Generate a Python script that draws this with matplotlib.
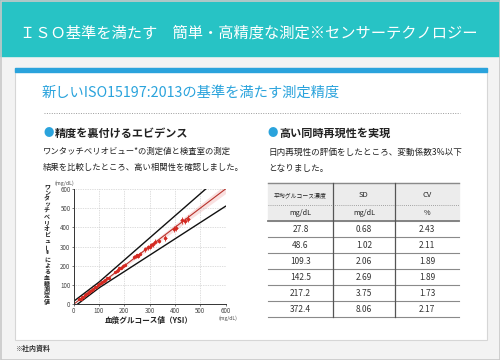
import matplotlib
matplotlib.use("Agg")
import matplotlib.pyplot as plt
from matplotlib.patches import Rectangle

plt.rcParams["font.family"] = ["Noto Sans CJK JP", "DejaVu Sans"]

# ---------------------------------------------------------------------------
# Data
# ---------------------------------------------------------------------------

TITLE = "ＩＳＯ基準を満たす　簡単・高精度な測定※センサーテクノロジー"
SUBTITLE = "新しいISO15197:2013の基準を満たす測定精度"
LEFT_HEAD = "精度を裏付けるエビデンス"
LEFT_BODY = ["ワンタッチベリオビュー*の測定値と検査室の測定",
             "結果を比較したところ、高い相関性を確認しました。"]
RIGHT_HEAD = "高い同時再現性を実現"
RIGHT_BODY = ["日内再現性の評価をしたところ、変動係数3%以下",
              "となりました。"]
FOOTNOTE = "※社内資料"

YLABEL = "ワンタッチベリオビュー®による血糖測定値"
XLABEL = "血漿グルコース値（YSI）"
TICKS = [0, 100, 200, 300, 400, 500, 600]

# lab value (YSI) vs meter value, mg/dL, with spread of repeated readings
ysi = [22, 27, 33, 38, 44, 50, 55, 60, 66, 72, 78, 84, 90, 96, 101, 106,
       112, 118, 124, 130, 138, 165, 170, 176, 181, 188, 195, 203, 238, 245,
       250, 255, 262, 282, 292, 300, 306, 313, 322, 336, 362, 395, 404, 428,
       440, 450]
meter = [26, 29, 36, 40, 47, 52, 58, 61, 70, 74, 80, 88, 92, 100, 104, 110,
         114, 122, 126, 134, 136, 168, 174, 178, 186, 190, 198, 206, 244, 250,
         254, 252, 264, 286, 296, 300, 308, 312, 324, 330, 344, 392, 398, 438,
         434, 446]
meter_err = [2, 2, 3, 3, 3, 3, 4, 3, 4, 4, 4, 5, 4, 5, 5, 6, 5, 6, 6, 7,
             6, 7, 8, 7, 8, 8, 9, 9, 10, 11, 10, 11, 10, 12, 12, 13, 12, 14,
             13, 12, 14, 15, 16, 18, 16, 17]
ysi_err = [1, 1, 1, 1, 2, 2, 2, 2, 2, 2, 2, 2, 3, 3, 3, 3, 3, 3, 3, 3,
           3, 4, 4, 4, 4, 4, 4, 4, 5, 5, 5, 5, 5, 6, 6, 6, 6, 6, 6, 6,
           7, 7, 7, 8, 8, 8]

# identity line and ISO 15197:2013 limits (vertices)
ident_x = [0, 600]
ident_y = [0, 600]
band_lo = [0, 576]
band_hi = [0, 624]
upper_x = [0, 100, 600]
upper_y = [15, 115, 690]
lower_x = [15, 100, 600]
lower_y = [0, 85, 510]

# reproducibility table
table_head = ["平均グルコース濃度", "SD", "CV"]
table_units = ["mg/dL", "mg/dL", "%"]
mean_glucose = [27.8, 48.6, 109.3, 142.5, 217.2, 372.4]
sd_values = [0.68, 1.02, 2.06, 2.69, 3.75, 8.06]
cv_values = [2.43, 2.11, 1.89, 1.89, 1.73, 2.17]

# ---------------------------------------------------------------------------
# Colours
# ---------------------------------------------------------------------------

TEAL = "#27c3c5"
BLUE = "#2aa3dc"
TEXT = "#222222"
RED = "#d42a22"

# ---------------------------------------------------------------------------
# Page layout (pixel coordinates on a 500x360 canvas)
# ---------------------------------------------------------------------------

fig = plt.figure(figsize=(5.0, 3.6), dpi=100)
fig.patch.set_facecolor("#f3f3f3")

bg = fig.add_axes([0, 0, 1, 1])
bg.set_xlim(0, 500)
bg.set_ylim(360, 0)
bg.axis("off")

bg.add_patch(Rectangle((0, 0), 500, 56, color=TEAL, zorder=1))
bg.add_patch(Rectangle((0.5, 0.5), 499, 359, fill=False, ec="#c8c8c8", lw=1.2, zorder=1))
bg.add_patch(Rectangle((15, 68), 472, 272, fc="white", ec="#d6d6d6", lw=0.8, zorder=1))
bg.add_patch(Rectangle((15, 68), 472, 4, color=BLUE, zorder=2))

bg.text(20, 33, TITLE, color="white", fontsize=11, va="center", ha="left")
bg.text(42, 93, SUBTITLE, color=BLUE, fontsize=10.3, va="center", ha="left")
bg.plot([44, 460], [113, 113], color="#9a9a9a", lw=0.7, ls=(0, (1, 1.5)))

# section headings: blue dot + bold text
for hx, head in ((43, LEFT_HEAD), (268, RIGHT_HEAD)):
    bg.text(hx, 133, "●", color=BLUE, fontsize=7.5, va="center")
    bg.text(hx + 11.5, 133, head, color=TEXT, fontsize=8, fontweight="bold", va="center")
for i, line in enumerate(LEFT_BODY):
    bg.text(43, 151 + i * 16, line, color=TEXT, fontsize=6, va="center")
for i, line in enumerate(RIGHT_BODY):
    bg.text(268, 152 + i * 17, line, color=TEXT, fontsize=6.2, va="center")

bg.text(15, 348, FOOTNOTE, color="#333333", fontsize=5, fontweight="bold", va="center")

# vertical (tategaki) y label
for i, ch in enumerate(YLABEL):
    bg.text(47, 186 + i * 6.1, ch, fontsize=4.3, fontweight="bold", color=TEXT,
            ha="center", va="center", rotation=90 if ch == "ー" else 0)
bg.text(149, 321, XLABEL, fontsize=5.5, fontweight="bold", color=TEXT,
        ha="center", va="center")
bg.text(64, 183, "(mg/dL)", fontsize=3.8, color="#444444", ha="center", va="center")
bg.text(228, 318, "(mg/dL)", fontsize=3.6, color="#444444", ha="center", va="center")

# ---------------------------------------------------------------------------
# Table
# ---------------------------------------------------------------------------

tx0, tx1 = 268, 459
col_edges = [268, 333, 395, 459]
col_mid = [(a + b) / 2 for a, b in zip(col_edges[:-1], col_edges[1:])]
head_top, head_mid, head_bot = 183, 205, 221
row_h = 16.0

bg.add_patch(Rectangle((tx0, head_top), tx1 - tx0, head_bot - head_top,
                       color="#ececec", zorder=1))
bg.plot([tx0, tx1], [head_top, head_top], color="#8a8a8a", lw=1.0)
bg.plot([tx0, tx1], [head_mid, head_mid], color="#8a8a8a", lw=0.6, ls=(0, (1, 1.5)))
bg.plot([tx0, tx1], [head_bot, head_bot], color="#7a7a7a", lw=1.3)

for j, (h, u) in enumerate(zip(table_head, table_units)):
    bg.text(col_mid[j], 195, h, fontsize=4.2 if j == 0 else 5.5, color=TEXT,
            ha="center", va="center")
    bg.text(col_mid[j], 213, u, fontsize=5.2, color=TEXT, ha="center", va="center")

for i, (m, s, c) in enumerate(zip(mean_glucose, sd_values, cv_values)):
    yc = head_bot + row_h * (i + 0.5)
    yl = head_bot + row_h * (i + 1)
    for j, s_txt in enumerate([f"{m:.1f}", f"{s:.2f}", f"{c:.2f}"]):
        bg.text(col_mid[j], yc, s_txt, fontsize=6, color="#333333",
                ha="center", va="center")
    bg.plot([tx0, tx1], [yl, yl], color="#8a8a8a", lw=0.8)

table_bottom = head_bot + row_h * len(mean_glucose)
for xe in col_edges[1:-1]:
    bg.plot([xe, xe], [head_top, table_bottom], color="#555555", lw=0.9)

# ---------------------------------------------------------------------------
# Correlation chart
# ---------------------------------------------------------------------------

ax = fig.add_axes([73.7 / 500, 1 - 304.2 / 360, 151.8 / 500, 115.2 / 360])
ax.set_facecolor("white")
ax.fill_between(ident_x, band_lo, band_hi, color="#f6cccc", alpha=0.6, lw=0)
ax.plot(upper_x, upper_y, color="#111111", lw=1.0)
ax.plot(lower_x, lower_y, color="#111111", lw=1.0)
ax.plot(ident_x, ident_y, color="#b8322b", lw=0.8)
ax.errorbar(ysi, meter, yerr=meter_err, xerr=ysi_err, fmt="o", ms=1.4,
            color=RED, ecolor=RED, elinewidth=0.6, capsize=0, zorder=3)

ax.set_xlim(0, 600)
ax.set_ylim(0, 600)
ax.set_xticks(TICKS)
ax.set_yticks(TICKS)
ax.tick_params(labelsize=4.5, length=1.5, width=0.5, pad=0.8, colors="#444444")
ax.grid(True, color="#bdbdbd", lw=0.5, ls=(0, (1, 1.5)))
for side in ("top", "right"):
    ax.spines[side].set_visible(False)
for side in ("left", "bottom"):
    ax.spines[side].set_color("#333333")
    ax.spines[side].set_linewidth(0.7)

fig.savefig("out.png", dpi=100, facecolor=fig.get_facecolor())
